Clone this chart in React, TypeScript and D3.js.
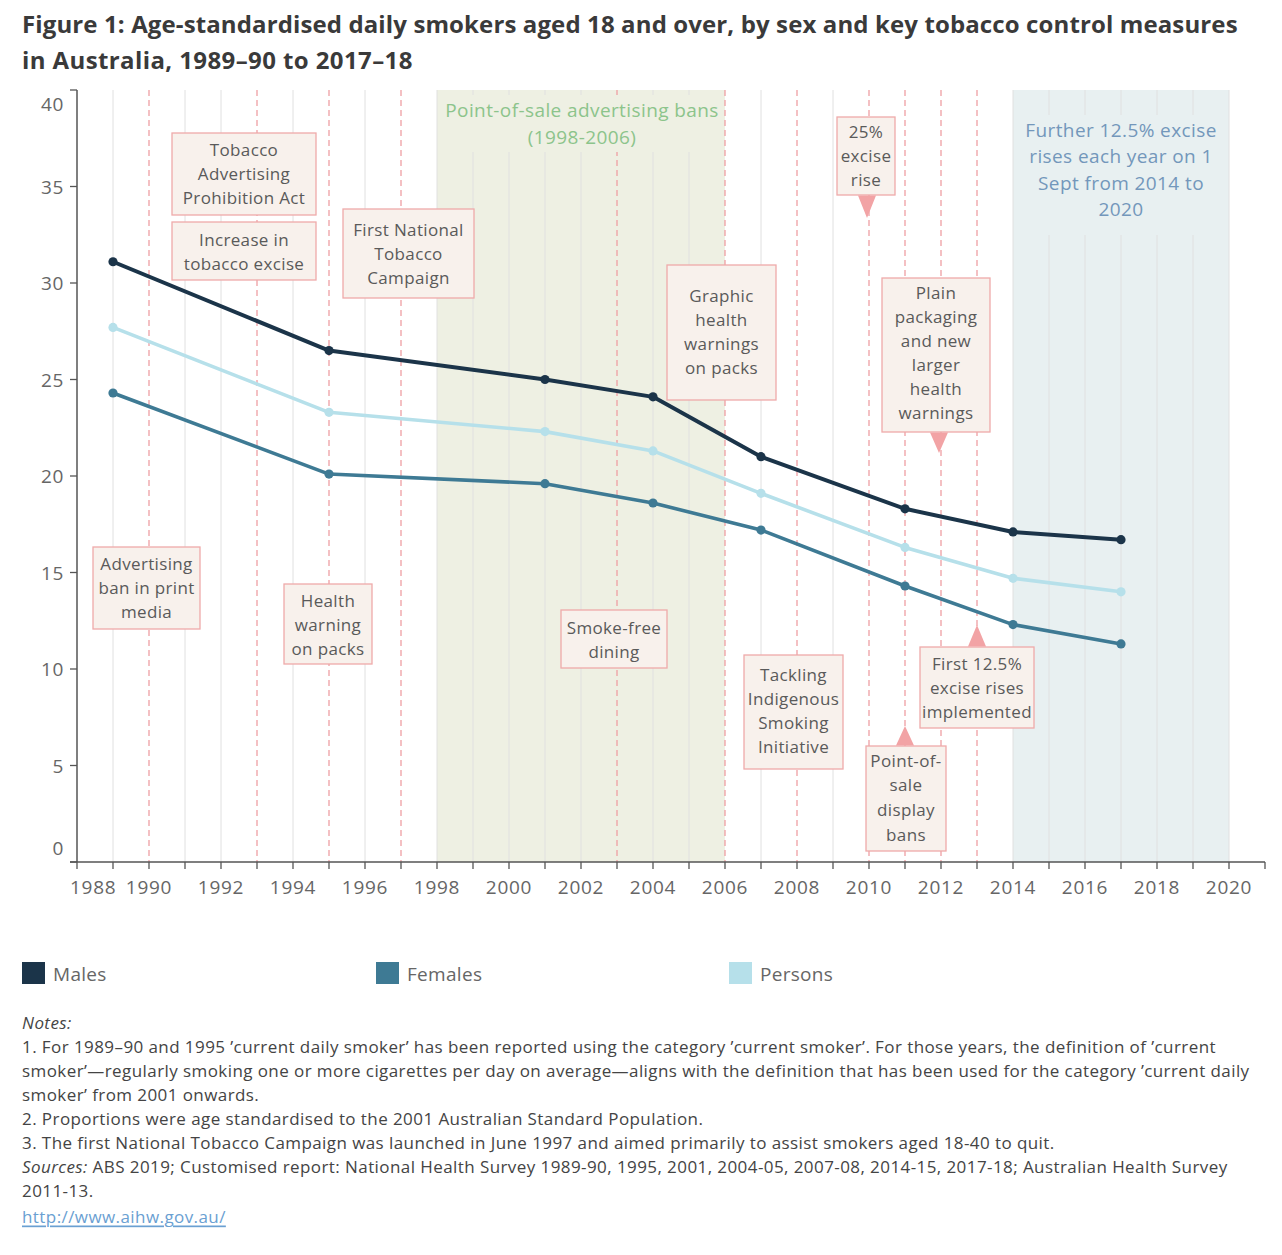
import React from "react";
import * as d3 from "d3";

// ---------- DATA ----------
const surveyYears = [1989, 1995, 2001, 2004, 2007, 2011, 2014, 2017];
const males = [31.1, 26.5, 25.0, 24.1, 21.0, 18.3, 17.1, 16.7];
const females = [24.3, 20.1, 19.6, 18.6, 17.2, 14.3, 12.3, 11.3];
const persons = [27.7, 23.3, 22.3, 21.3, 19.1, 16.3, 14.7, 14.0];

const yTicks = [0, 5, 10, 15, 20, 25, 30, 35, 40];
const xTickLabels = [1988, 1990, 1992, 1994, 1996, 1998, 2000, 2002, 2004, 2006, 2008, 2010, 2012, 2014, 2016, 2018, 2020];

const eventYears = [1990, 1993, 1995, 1997, 2003, 2006, 2008, 2010, 2011, 2012, 2013];

const bandRanges = [
  [1998, 2006],
  [2014, 2020],
];
const bandLabels = [
  ["Point-of-sale advertising bans", "(1998-2006)"],
  ["Further 12.5% excise", "rises each year on 1", "Sept from 2014 to", "2020"],
];

const annotationTexts = [
  ["Tobacco", "Advertising", "Prohibition Act"],
  ["Increase in", "tobacco excise"],
  ["First National", "Tobacco", "Campaign"],
  ["Graphic", "health", "warnings", "on packs"],
  ["25%", "excise", "rise"],
  ["Plain", "packaging", "and new", "larger", "health", "warnings"],
  ["Advertising", "ban in print", "media"],
  ["Health", "warning", "on packs"],
  ["Smoke-free", "dining"],
  ["Tackling", "Indigenous", "Smoking", "Initiative"],
  ["First 12.5%", "excise rises", "implemented"],
  ["Point-of-", "sale", "display", "bans"],
];

const seriesNames = ["Males", "Females", "Persons"];

const notesLines = [
  "1. For 1989–90 and 1995 ’current daily smoker’ has been reported using the category ’current smoker’. For those years, the definition of ’current",
  "smoker’—regularly smoking one or more cigarettes per day on average—aligns with the definition that has been used for the category ’current daily",
  "smoker’ from 2001 onwards.",
  "2. Proportions were age standardised to the 2001 Australian Standard Population.",
  "3. The first National Tobacco Campaign was launched in June 1997 and aimed primarily to assist smokers aged 18-40 to quit.",
];
const sourcesLine1 = " ABS 2019; Customised report: National Health Survey 1989-90, 1995, 2001, 2004-05, 2007-08, 2014-15, 2017-18; Australian Health Survey";
const sourcesLine2 = "2011-13.";
const urlText = "http://www.aihw.gov.au/";

// ---------- LAYOUT / STYLE ----------
const FONT = "'Open Sans', 'Noto Sans', sans-serif";
const seriesColors = ["#1b3449", "#3e7a94", "#b6e0ea"];
const seriesWidths = [4, 3.6, 3.6];

// box layout: [x0, y0, w, h, firstLineOffset, lineSpacing, pointer]
type Pointer = null | { dir: "down" | "up"; cx: number; tip: number };
const boxLayout: [number, number, number, number, number, number, Pointer][] = [
  [172, 133, 144, 82, 16, 24, null],
  [172, 222, 144, 58, 17, 24, null],
  [343, 209, 131, 89, 20, 24, null],
  [667, 265, 109, 135, 30, 24, null],
  [837, 117, 58, 78, 14, 24, { dir: "down", cx: 867, tip: 218 }],
  [882, 278, 108, 154, 14, 24, { dir: "down", cx: 939, tip: 453 }],
  [93, 547, 107, 82, 16, 24, null],
  [284, 584, 88, 80, 16, 24, null],
  [561, 610, 106, 58, 17, 24, null],
  [744, 655, 99, 114, 19, 24.3, null],
  [920, 647, 114, 81, 16, 24, { dir: "up", cx: 977, tip: 625 }],
  [866, 746, 80, 105, 14, 24.7, { dir: "up", cx: 905, tip: 726 }],
];

export default function App() {
  const x = d3.scaleLinear().domain([1988, 2021]).range([77, 1265]);
  const y = d3.scaleLinear().domain([0, 40]).range([862, 90]);
  const top = y(40);
  const bottom = y(0);

  const allSeries = [males, females, persons];
  const line = d3
    .line<number>()
    .x((_, i) => x(surveyYears[i]))
    .y((d) => y(d));

  const gridYears = d3.range(1989, 2021).filter((yr) => !eventYears.includes(yr));
  const allTickYears = d3.range(1988, 2022);

  const bandFills = ["#eef0e3", "#e8f0f1"];
  const bandTextColors = ["#8cc48b", "#7397bb"];

  const drawOrder = [2, 1, 0];

  return (
    <svg
      width={1282}
      height={1255}
      style={{ position: "absolute", left: 0, top: 0, background: "#fff" }}
      fontFamily={FONT}
    >
      {/* Title */}
      <text x={22} y={33} fontSize={24} fontWeight={700} fill="#3a3a3a" letterSpacing={0.12}>
        Figure 1: Age-standardised daily smokers aged 18 and over, by sex and key tobacco control measures
      </text>
      <text x={22} y={69} fontSize={24} fontWeight={700} fill="#3a3a3a" letterSpacing={0.4}>
        in Australia, 1989–90 to 2017–18
      </text>

      {/* Bands */}
      {bandRanges.map(([a, b], i) => (
        <rect key={"band" + i} x={x(a)} y={top} width={x(b) - x(a)} height={bottom - top} fill={bandFills[i]} />
      ))}

      {/* grey gridlines */}
      {gridYears.map((yr) => (
        <line key={"g" + yr} x1={x(yr)} x2={x(yr)} y1={top} y2={bottom} stroke="#e0e0e0" strokeWidth={1} />
      ))}
      {/* event dashed lines */}
      {eventYears.map((yr) => (
        <line
          key={"e" + yr}
          x1={x(yr)}
          x2={x(yr)}
          y1={top}
          y2={bottom}
          stroke="#ef9fa4"
          strokeWidth={1.3}
          strokeDasharray="6,4"
        />
      ))}

      {/* band label backgrounds + labels */}
      <rect x={x(1998) + 1} y={95} width={x(2006) - x(1998) - 3} height={57} fill={bandFills[0]} />
      <rect x={x(2014) + 1} y={115} width={x(2020) - x(2014) - 2} height={120} fill={bandFills[1]} />
      {bandLabels[0].map((t, i) => (
        <text
          key={"bl0" + i}
          x={(x(1998) + x(2006)) / 2 + 1}
          y={110 + i * 27}
          fontSize={19}
          letterSpacing={0.4}
          fill={bandTextColors[0]}
          textAnchor="middle"
          dominantBaseline="central"
        >
          {t}
        </text>
      ))}
      {bandLabels[1].map((t, i) => (
        <text
          key={"bl1" + i}
          x={(x(2014) + x(2020)) / 2}
          y={130 + i * 26.3}
          fontSize={19}
          letterSpacing={0.4}
          fill={bandTextColors[1]}
          textAnchor="middle"
          dominantBaseline="central"
        >
          {t}
        </text>
      ))}

      {/* Annotation boxes */}
      {annotationTexts.map((lines, i) => {
        const [bx, by, bw, bh, off, sp, ptr] = boxLayout[i];
        const cx = bx + bw / 2;
        return (
          <g key={"ann" + i}>
            <rect x={bx} y={by} width={bw} height={bh} fill="#f8f1ec" stroke="#eeaaaa" strokeWidth={1.3} />
            {ptr && ptr.dir === "down" && (
              <path
                d={`M${ptr.cx - 9},${by + bh + 0.6} L${ptr.cx + 9},${by + bh + 0.6} L${ptr.cx},${ptr.tip} Z`}
                fill="#f2a3a5"
              />
            )}
            {ptr && ptr.dir === "up" && (
              <path d={`M${ptr.cx - 9},${by - 0.6} L${ptr.cx + 9},${by - 0.6} L${ptr.cx},${ptr.tip} Z`} fill="#f2a3a5" />
            )}
            {lines.map((t, j) => (
              <text
                key={j}
                x={cx}
                y={by + off + j * sp}
                fontSize={17}
                letterSpacing={0.35}
                fill="#5a5a5a"
                textAnchor="middle"
                dominantBaseline="central"
              >
                {t}
              </text>
            ))}
          </g>
        );
      })}

      {/* Series lines */}
      {drawOrder.map((si) => (
        <g key={"s" + si}>
          <path
            d={line(allSeries[si]) || ""}
            fill="none"
            stroke={seriesColors[si]}
            strokeWidth={seriesWidths[si]}
            strokeLinejoin="round"
          />
          {allSeries[si].map((v, i) => (
            <circle key={i} cx={x(surveyYears[i])} cy={y(v)} r={4.6} fill={seriesColors[si]} />
          ))}
        </g>
      ))}

      {/* Y axis */}
      <line x1={x(1988)} x2={x(1988)} y1={top} y2={bottom} stroke="#555" strokeWidth={1.5} />
      {yTicks.map((t) => (
        <g key={"yt" + t}>
          <line x1={x(1988) - 7} x2={x(1988)} y1={y(t)} y2={y(t)} stroke="#555" strokeWidth={1.3} />
          <text
            x={64}
            y={t === 40 ? y(t) + 14 : t === 0 ? y(t) - 14 : y(t)}
            fontSize={19}
            letterSpacing={0.6}
            fill="#666"
            textAnchor="end"
            dominantBaseline="central"
          >
            {t}
          </text>
        </g>
      ))}

      {/* X axis */}
      <line x1={x(1988) - 7} x2={x(2021)} y1={bottom} y2={bottom} stroke="#555" strokeWidth={1.5} />
      {allTickYears.map((yr) => (
        <line key={"xt" + yr} x1={x(yr)} x2={x(yr)} y1={bottom} y2={bottom + 7} stroke="#555" strokeWidth={1.3} />
      ))}
      {xTickLabels.map((yr) => (
        <text
          key={"xl" + yr}
          x={yr === 1988 ? 70 : x(yr)}
          y={887}
          fontSize={19}
          letterSpacing={0.7}
          fill="#666"
          textAnchor={yr === 1988 ? "start" : "middle"}
          dominantBaseline="central"
        >
          {yr}
        </text>
      ))}

      {/* Legend */}
      {seriesNames.map((name, i) => {
        const lx = [22, 376, 729][i];
        return (
          <g key={"lg" + i}>
            <rect x={lx} y={962} width={23} height={22} fill={seriesColors[i]} />
            <text x={lx + 31} y={974} fontSize={19} letterSpacing={0.3} fill="#666" dominantBaseline="central">
              {name}
            </text>
          </g>
        );
      })}

      {/* Notes */}
      <g fontSize={17} letterSpacing={0.42} fill="#444">
        <text x={22} y={1022} fontStyle="italic" dominantBaseline="central">
          Notes:
        </text>
        {notesLines.map((t, i) => (
          <text key={"n" + i} x={22} y={1046 + i * 24} dominantBaseline="central">
            {t}
          </text>
        ))}
        <text x={22} y={1166} dominantBaseline="central">
          <tspan fontStyle="italic">Sources:</tspan>
          <tspan>{sourcesLine1}</tspan>
        </text>
        <text x={22} y={1190} dominantBaseline="central">
          {sourcesLine2}
        </text>
        <text x={22} y={1216} fill="#6aa0d2" dominantBaseline="central" style={{ textDecoration: "underline" }}>
          {urlText}
        </text>
      </g>
    </svg>
  );
}
